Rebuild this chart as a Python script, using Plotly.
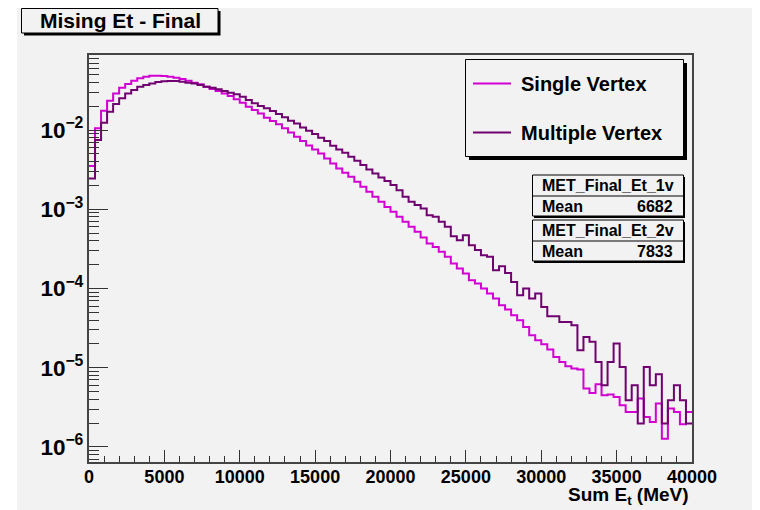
import numpy as np
import plotly.graph_objects as go

# ---------------- data ----------------
x_min, x_max, n_bins = 0, 40000, 100
single_vertex = [
    3.51e-3, 1.05e-2, 1.75e-2, 2.34e-2, 2.90e-2, 3.42e-2, 3.81e-2, 4.19e-2, 4.49e-2, 4.71e-2,
    4.85e-2, 4.85e-2, 4.80e-2, 4.71e-2, 4.57e-2, 4.40e-2, 4.19e-2, 3.95e-2, 3.77e-2, 3.52e-2,
    3.29e-2, 3.11e-2, 2.90e-2, 2.68e-2, 2.44e-2, 2.21e-2, 1.97e-2, 1.79e-2, 1.62e-2, 1.43e-2,
    1.30e-2, 1.18e-2, 1.05e-2, 9.34e-3, 8.22e-3, 7.25e-3, 6.40e-3, 5.69e-3, 5.07e-3, 4.38e-3,
    3.79e-3, 3.28e-3, 2.88e-3, 2.57e-3, 2.22e-3, 1.92e-3, 1.66e-3, 1.44e-3, 1.24e-3, 1.07e-3,
    9.28e-4, 8.02e-4, 6.94e-4, 6.00e-4, 5.19e-4, 4.41e-4, 3.70e-4, 3.35e-4, 2.90e-4, 2.51e-4,
    2.07e-4, 1.79e-4, 1.55e-4, 1.27e-4, 1.16e-4, 1.00e-4, 8.64e-5, 7.47e-5, 6.15e-5, 5.43e-5,
    4.60e-5, 3.98e-5, 3.27e-5, 2.57e-5, 2.22e-5, 1.98e-5, 1.70e-5, 1.37e-5, 1.18e-5, 1.04e-5,
    9.76e-6, 9.48e-6, 5.45e-6, 4.80e-6, 6.18e-6, 4.49e-6, 4.58e-6, 4.27e-6, 3.36e-6, 2.76e-6,
    2.76e-6, 4.08e-6, 2.39e-6, 2.06e-6, 3.53e-6, 1.27e-6, 3.05e-6, 2.76e-6, 1.93e-6, 2.76e-6,
]
multiple_vertex = [
    2.45e-3, 7.47e-3, 1.24e-2, 1.70e-2, 2.13e-2, 2.51e-2, 2.90e-2, 3.20e-2, 3.52e-2, 3.70e-2,
    3.88e-2, 4.03e-2, 4.12e-2, 4.15e-2, 4.15e-2, 4.07e-2, 3.95e-2, 3.88e-2, 3.70e-2, 3.52e-2,
    3.42e-2, 3.26e-2, 3.11e-2, 2.96e-2, 2.82e-2, 2.63e-2, 2.39e-2, 2.17e-2, 2.01e-2, 1.88e-2,
    1.74e-2, 1.59e-2, 1.45e-2, 1.31e-2, 1.21e-2, 1.08e-2, 9.78e-3, 8.89e-3, 7.98e-3, 7.25e-3,
    6.33e-3, 5.69e-3, 5.16e-3, 4.59e-3, 4.09e-3, 3.61e-3, 3.18e-3, 2.83e-3, 2.52e-3, 2.27e-3,
    2.02e-3, 1.74e-3, 1.44e-3, 1.24e-3, 1.13e-3, 1.02e-3, 8.43e-4, 8.02e-4, 6.94e-4, 6.00e-4,
    4.58e-4, 4.07e-4, 4.71e-4, 3.52e-4, 3.05e-4, 2.63e-4, 2.51e-4, 1.70e-4, 1.91e-4, 1.57e-4,
    1.21e-4, 8.23e-5, 1.00e-4, 7.47e-5, 8.64e-5, 5.85e-5, 4.47e-5, 4.47e-5, 3.78e-5, 3.78e-5,
    3.44e-5, 1.66e-5, 2.45e-5, 2.12e-5, 1.18e-5, 6.01e-6, 1.18e-5, 2.02e-5, 1.02e-5, 3.88e-6,
    6.01e-6, 1.97e-6, 1.02e-5, 6.01e-6, 8.27e-6, 1.97e-6, 3.88e-6, 6.01e-6, 3.88e-6, 1.97e-6,
]
series_names = ["Single Vertex", "Multiple Vertex"]
stat_names = ["MET_Final_Et_1v", "MET_Final_Et_2v"]
stat_means = ["6682", "7833"]
title_text = "Mising Et - Final"
x_title = "Sum E<sub>t</sub> (MeV)"
x_ticks = [0, 5000, 10000, 15000, 20000, 25000, 30000, 35000, 40000]

# ---------------- style ----------------
OFF = 8                      # page body margin
W, H = 752, 502              # figure size (page 8..760, 8..510)
ML, MR, MT, MB = 81, 68, 47, 48
BG = "rgb(242,242,242)"
C_S = "rgb(210,0,210)"
C_M = "rgb(112,0,112)"
FONT = "Liberation Sans"

pw, ph = W - ML - MR, H - MT - MB
def px(x):   # page pixel -> paper
    return (x - OFF - ML) / pw
def py(y):
    return (H - MB - (y - OFF)) / ph

edges = np.linspace(x_min, x_max, n_bins + 1)

fig = go.Figure()
for vals, name, col in [(single_vertex, series_names[0], C_S),
                        (multiple_vertex, series_names[1], C_M)]:
    fig.add_trace(go.Scatter(
        x=edges, y=list(vals) + [vals[-1]], mode="lines", name=name,
        line=dict(color=col, width=2, shape="hv"), showlegend=False))

shapes = []
ann = []

def rect(x0, y0, x1, y1, fill, line="black", lw=1):
    shapes.append(dict(type="rect", xref="paper", yref="paper",
                       x0=px(x0), x1=px(x1), y0=py(y1), y1=py(y0),
                       fillcolor=fill, line=dict(color=line, width=lw)))

def hline(x0, x1, y, col, lw=1):
    shapes.append(dict(type="line", xref="paper", yref="paper",
                       x0=px(x0), x1=px(x1), y0=py(y), y1=py(y),
                       line=dict(color=col, width=lw)))

def text(x, y, s, size, xanchor="left", yanchor="middle"):
    ann.append(dict(x=px(x), y=py(y), xref="paper", yref="paper", text=s,
                    showarrow=False, xanchor=xanchor, yanchor=yanchor,
                    font=dict(family=FONT, size=size, color="black", weight="bold")))

# white left strip of the canvas
rect(0, 0, 17, H + OFF + 2, "white", line="white", lw=0)

# title box
rect(24, 11, 220.5, 35.5, "black", lw=0)
rect(21.5, 8.5, 218, 33, BG)
text(120, 20, title_text, 21, xanchor="center")

# legend box
rect(469, 63, 687, 160, "black", lw=0)
rect(465.5, 59.5, 683.5, 156.5, BG)
for yy, col, name in [(83.5, C_S, series_names[0]), (132.5, C_M, series_names[1])]:
    hline(473, 511, yy, col, 2)
    text(519, yy, name, 20)

# stat boxes
for top, nm, mean in [(175, stat_names[0], stat_means[0]), (220, stat_names[1], stat_means[1])]:
    rect(534, top + 2, 685, top + 43, "black", lw=0)
    rect(532.5, top, 683.5, top + 41, BG)
    hline(532.5, 683.5, top + 21, "black", 1)
    text(608, top + 10.5, nm, 16, xanchor="center")
    text(540, top + 31, "Mean", 16)
    text(675, top + 31, mean, 16, xanchor="right")

# x axis title
text(691, 496, x_title, 19, xanchor="right")

fig.update_layout(
    width=W, height=H,
    margin=dict(l=ML, r=MR, t=MT, b=MB, pad=0),
    paper_bgcolor=BG, plot_bgcolor=BG,
    shapes=shapes, annotations=ann, showlegend=False,
    font=dict(family=FONT, color="black"),
)
fig.update_xaxes(
    range=[x_min, x_max], showgrid=False, zeroline=False,
    tickvals=x_ticks, ticktext=[str(v) for v in x_ticks],
    ticks="inside", ticklen=12, tickwidth=1, tickcolor="#333",
    tickfont=dict(family=FONT, size=18, weight="bold", color="black"),
    ticklabelstandoff=-3,
    minor=dict(ticks="inside", ticklen=6, dtick=1000, tickcolor="#333", showgrid=False),
    showline=True, linecolor="#444", linewidth=2, mirror=True,
)
fig.update_yaxes(
    type="log", range=[-6.19, -1.053], showgrid=False, zeroline=False,
    dtick=1, exponentformat="power",
    ticks="inside", ticklen=19, tickwidth=1, tickcolor="#333",
    tickfont=dict(family=FONT, size=18, weight="bold", color="black"),
    minor=dict(ticks="inside", ticklen=10, dtick="D1", tickcolor="#333", showgrid=False),
    showline=True, linecolor="#444", linewidth=2, mirror=True,
)

fig.write_html("out.html")
